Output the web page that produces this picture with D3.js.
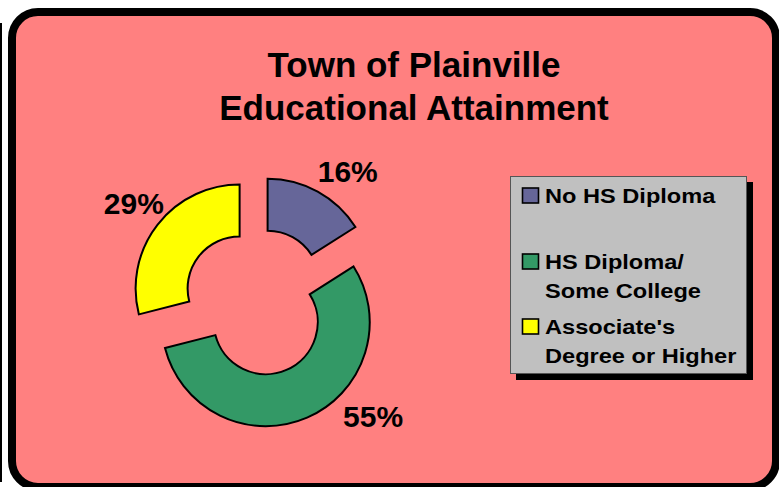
<!DOCTYPE html>
<html>
<head>
<meta charset="utf-8">
<script src="https://cdn.jsdelivr.net/npm/d3@7"></script>
<style>
  html, body { margin: 0; padding: 0; background: #ffffff; }
  svg { display: block; }
  text { font-family: Arial, "Liberation Sans", sans-serif; font-weight: bold; fill: #000; }
</style>
</head>
<body>
<svg id="chart" width="779" height="487"></svg>
<script>
// ---- data ----
const categories = ["No HS Diploma", "HS Diploma/\nSome College", "Associate's\nDegree or Higher"];
const values = [16, 55, 29];
const percentLabels = ["16%", "55%", "29%"];
const colors = ["#666699", "#339966", "#FFFF00"];
const titleLines = ["Town of Plainville", "Educational Attainment"];

// ---- layout ----
const W = 779, H = 487;
const svg = d3.select("#chart");

// left edge line artifact
svg.append("rect").attr("x", 0).attr("y", 23).attr("width", 2).attr("height", 459).attr("fill", "#000");

// panel
svg.append("rect")
  .attr("x", 12).attr("y", 12).attr("width", 764).attr("height", 475)
  .attr("rx", 26).attr("ry", 26)
  .attr("fill", "#FF8080").attr("stroke", "#000").attr("stroke-width", 8);

// title
const title = svg.append("g");
titleLines.forEach((t, i) => {
  title.append("text").attr("x", 414).attr("y", 77 + i * 43)
    .attr("text-anchor", "middle").attr("font-size", 35).text(t);
});

// donut
const cx = 257, cy = 302, rOuter = 104, rInner = 52, explode = 22;
const pie = d3.pie().sort(null).value(d => d).startAngle(0).endAngle(2 * Math.PI);
const arcs = pie(values);
const arc = d3.arc().innerRadius(rInner).outerRadius(rOuter);
const g = svg.append("g").attr("transform", `translate(${cx},${cy})`);

arcs.forEach((a, i) => {
  const mid = (a.startAngle + a.endAngle) / 2;
  const dx = Math.sin(mid) * explode, dy = -Math.cos(mid) * explode;
  g.append("path").attr("d", arc(a))
    .attr("transform", `translate(${dx},${dy})`)
    .attr("fill", colors[i]).attr("stroke", "#000").attr("stroke-width", 2)
    .attr("stroke-linejoin", "miter");
});

// percent labels (placed along adjusted mid-angle)
const labelNudgeDeg = [6, -22, 1];
const labelRadius = [159, 163, 158];
arcs.forEach((a, i) => {
  const mid = (a.startAngle + a.endAngle) / 2 + labelNudgeDeg[i] * Math.PI / 180;
  const lx = Math.sin(mid) * labelRadius[i], ly = -Math.cos(mid) * labelRadius[i];
  g.append("text").attr("x", lx).attr("y", ly)
    .attr("text-anchor", "middle").attr("dominant-baseline", "central")
    .attr("font-size", 30).text(percentLabels[i]);
});

// legend
const lg = svg.append("g");
lg.append("rect").attr("x", 516).attr("y", 182).attr("width", 237).attr("height", 198).attr("fill", "#000");
lg.append("rect").attr("x", 510.5).attr("y", 176.5).attr("width", 236).attr("height", 197)
  .attr("fill", "#C0C0C0").attr("stroke", "#555", ).attr("stroke-width", 1);

const entryTop = [203, 269, 334];
const lineH = 28.5;
categories.forEach((c, i) => {
  const base = entryTop[i];
  lg.append("rect").attr("x", 522.5).attr("y", base - 15).attr("width", 16).attr("height", 15)
    .attr("fill", colors[i]).attr("stroke", "#000").attr("stroke-width", 1.6);
  c.split("\n").forEach((line, j) => {
    lg.append("text")
      .attr("transform", `translate(545,${base + j * lineH}) scale(1.18,1)`)
      .attr("font-size", 20).text(line);
  });
});
</script>
</body>
</html>
